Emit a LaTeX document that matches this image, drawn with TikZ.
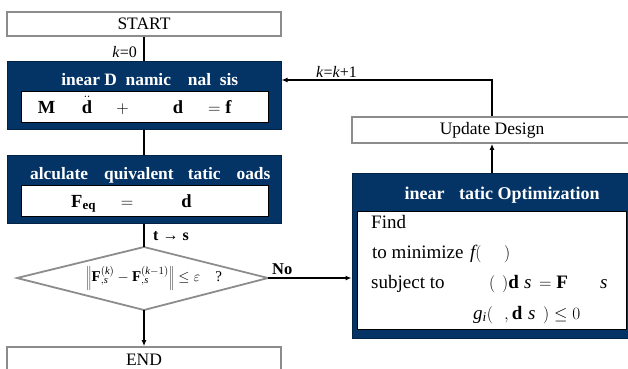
\documentclass[tikz,border=0pt]{standalone}
\usepackage{fontspec}
\setmainfont{Liberation Serif}
\usetikzlibrary{arrows.meta}
\definecolor{navy}{RGB}{4,52,102}
\definecolor{gline}{RGB}{140,140,140}
\tikzset{
  gbox/.style={draw=gline, line width=1.8pt, fill=white, inner sep=0pt, font=\fontsize{17.5}{20}\selectfont},
  dbox/.style={draw=navy!70!black, line width=1pt, fill=navy, inner sep=0pt},
  wbox/.style={draw=black, line width=0.9pt, fill=white, inner sep=0pt},
  ttl/.style={text=white, font=\bfseries\fontsize{17.4}{20}\selectfont, inner sep=0pt},
  eqt/.style={font=\fontsize{18.5}{22}\selectfont, inner sep=0pt, anchor=base},
  opt/.style={font=\fontsize{19}{22}\selectfont, inner sep=0pt, anchor=base west},
  conn/.style={draw=black, line width=1.6pt},
  arr/.style={conn, -{Latex[length=6pt,width=5pt]}},
  lbl/.style={font=\fontsize{16}{19}\selectfont, inner sep=0pt}
}
\begin{document}
\begin{tikzpicture}[x=1pt,y=-1pt]
\useasboundingbox (0,0) rectangle (628,368);
\clip (0,0) rectangle (628,368);
% START
\node[gbox, minimum width=274pt, minimum height=24pt] (start) at (144,24) {START};
% Linear dynamic analysis
\node[dbox, minimum width=274pt, minimum height=68pt] (lin) at (144,95) {};
\node[ttl] (lint) at (144,81) {\phantom{L}inear D\phantom{y}namic \phantom{A}nal\phantom{y}sis};
\node[wbox, minimum width=247pt, minimum height=31pt] (lini) at (144.5,106.5) {};
\node[eqt] (e1a) at (46.5,113) {$\mathbf{M}$};
\node[eqt] (e1b) at (87,113) {$\ddot{\mathbf{d}}$};
\node[eqt] (e1c) at (122.5,113) {$+$};
\node[eqt] (e1d) at (178,113) {$\mathbf{d}$};
\node[eqt, anchor=base west] (e1e) at (208,113) {$=\mathbf{f}$};
% Calculate equivalent static loads
\node[dbox, minimum width=274pt, minimum height=68pt] (calc) at (144,189) {};
\node[ttl] (calct) at (144,175) {\phantom{C}alculate \phantom{E}quivalent \phantom{S}tatic \phantom{L}oads};
\node[wbox, minimum width=247pt, minimum height=31pt] (calci) at (144.5,200.5) {};
\node[eqt, anchor=base west] (e2a) at (71,207) {$\mathbf{F}_{\mathbf{eq}}$};
\node[eqt] (e2b) at (127,207) {$=$};
\node[eqt] (e2c) at (186.5,207) {$\mathbf{d}$};
% diamond
\coordinate (dtop) at (144,247);
\coordinate (dbot) at (144,310);
\coordinate (dleft) at (17,278);
\coordinate (dright) at (268,278);
\draw[draw=gline, line width=1.8pt, fill=white] (dtop) -- (dright) -- (dbot) -- (dleft) -- cycle;
\node[inner sep=0pt, font=\fontsize{15}{18}\selectfont] (dtx) at (154,278)
  {$\left\|\mathbf{F}^{(\mathit{k})}_{,\mathit{s}}-\mathbf{F}^{(\mathit{k}-1)}_{,\mathit{s}}\right\|\le\varepsilon$\quad ?};
% END
\node[gbox, minimum width=274pt, minimum height=26pt] (endb) at (144,360) {END};
% Update design
\node[gbox, minimum width=280pt, minimum height=26pt] (upd) at (492,130) {Update Design};
% Optimization
\node[dbox, minimum width=288pt, minimum height=165pt] (optb) at (496,255.5) {};
\node[ttl, font=\bfseries\fontsize{18}{21}\selectfont] (optt) at (496,195) {\phantom{L}inear \phantom{S}tatic Optimization};
\node[wbox, minimum width=269pt, minimum height=118pt] (opti) at (491.5,270) {};
\node[opt] (l1) at (371,228) {Find};
\node[opt] (l2a) at (372,258) {to minimize};
\node[opt] (l2b) at (470,258) {$\mathit{f}($};
\node[opt] (l2c) at (504,258) {$)$};
\node[opt] (l3a) at (371,288) {subject to};
\node[opt] (l3b) at (489,288) {$($};
\node[opt] (l3c) at (502,288) {$)\mathbf{d}$};
\node[opt] (l3d) at (524,288) {$\mathit{s}$};
\node[opt] (l3e) at (539,288) {$=\mathbf{F}$};
\node[opt] (l3f) at (600,288) {$\mathit{s}$};
\node[opt] (l4a) at (473,319) {$\mathit{g}_{\mathit{i}}($};
\node[opt] (l4b) at (504,319) {$,\mathbf{d}$};
\node[opt] (l4c) at (528,319) {$\mathit{s}$};
\node[opt] (l4d) at (543,319) {$)\le 0$};
% connectors
\draw[conn] (start.south) -- (lin.north);
\node[lbl, anchor=east] (k0) at (137,52) {\textit{k}=0};
\draw[conn] (lin.south) -- (calc.north);
\draw[conn] (calc.south) -- (dtop);
\node[lbl, anchor=west, font=\bfseries\fontsize{16}{19}\selectfont] (ts) at (153,236) {t → s};
\draw[arr] (dbot) -- (endb.north);
\draw[arr] (dright) -- (dright -| optb.west);
\node[lbl, anchor=base west, font=\bfseries\fontsize{16.5}{19}\selectfont] (no) at (272,274) {No};
\draw[arr] (upd.south |- optb.north) -- (upd.south);
\coordinate (kk) at (492,80);
\draw[arr] (upd.north) -- (kk) -- (kk -| lin.east);
\node[lbl, anchor=base west] (kk1) at (316,77) {\textit{k}=\textit{k}+1};
\end{tikzpicture}
\end{document}
